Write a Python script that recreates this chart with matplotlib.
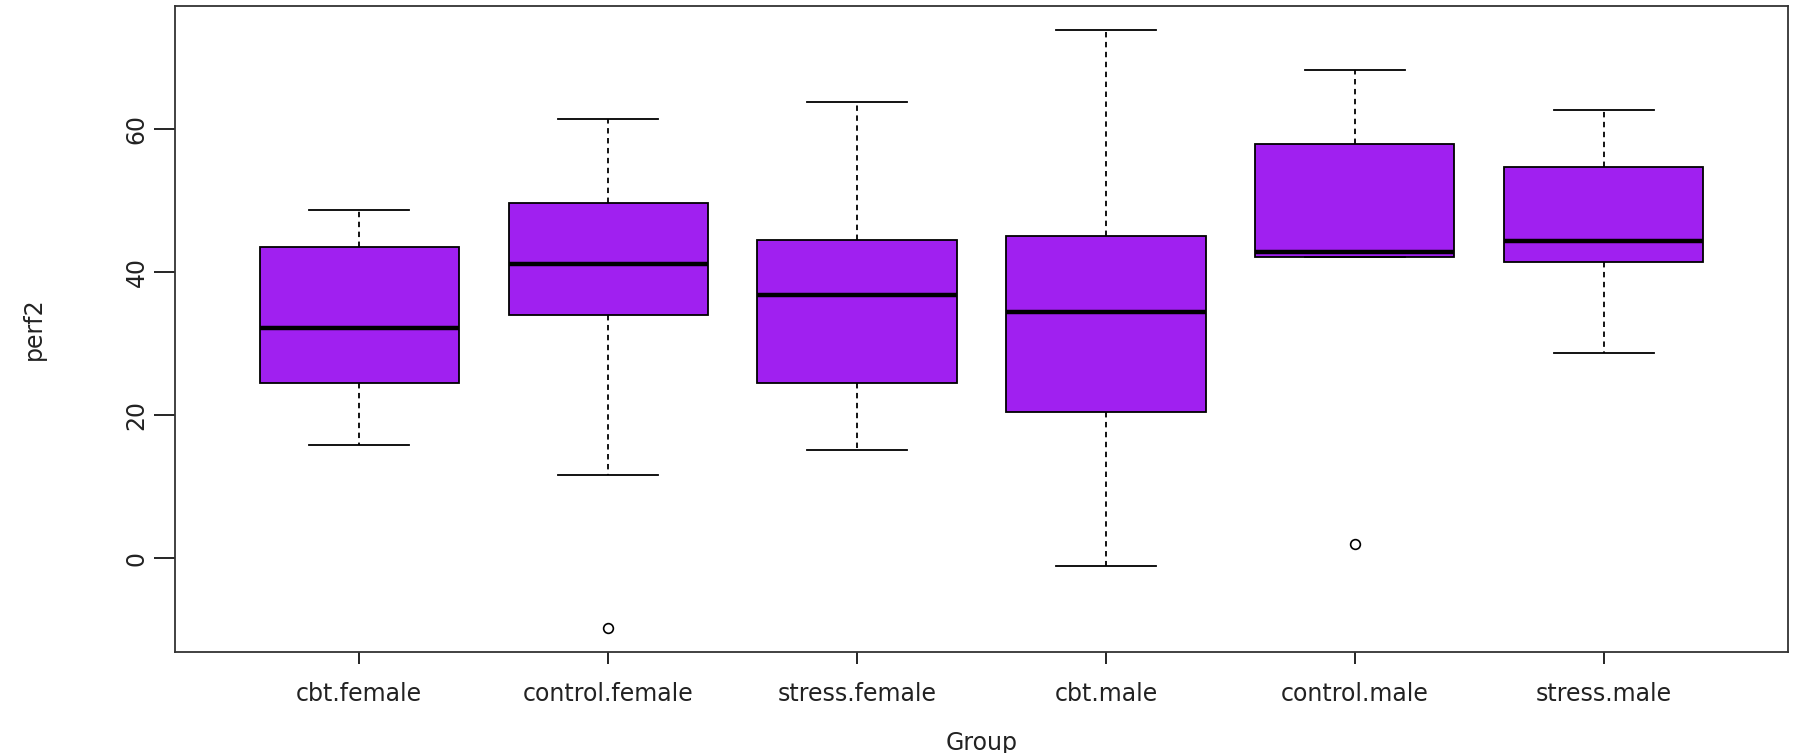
import matplotlib
matplotlib.use('Agg')
import matplotlib.pyplot as plt

groups = ['cbt.female', 'control.female', 'stress.female', 'cbt.male', 'control.male', 'stress.male']
whisker_low = [15.8, 11.6, 15.1, -1.1, 42.1, 28.6]
q1 = [24.4, 33.9, 24.5, 20.4, 42.1, 41.4]
median = [32.2, 41.1, 36.8, 34.4, 42.8, 44.3]
q3 = [43.5, 49.6, 44.4, 45.0, 57.8, 54.7]
whisker_high = [48.7, 61.3, 63.7, 73.8, 68.2, 62.6]
outliers = [[], [-9.8], [], [], [2.0], []]

stats = []
for i, g in enumerate(groups):
    stats.append(dict(label=g, whislo=whisker_low[i], q1=q1[i], med=median[i],
                      q3=q3[i], whishi=whisker_high[i], fliers=outliers[i]))

plt.rcParams['font.family'] = ['DejaVu Sans']

fig = plt.figure(figsize=(17.94, 7.53), dpi=100)
ax = fig.add_axes([0.0975, 0.134, 0.8992, 0.858])

ax.bxp(stats, positions=range(1, len(groups) + 1), widths=0.8, capwidths=0.4,
       patch_artist=True,
       boxprops=dict(facecolor='#A020F0', edgecolor='black', linewidth=1.3),
       medianprops=dict(color='black', linewidth=3.2, solid_capstyle='butt'),
       whiskerprops=dict(color='black', linewidth=1.3, linestyle=(0, (3, 2.5))),
       capprops=dict(color='black', linewidth=1.3),
       flierprops=dict(marker='o', markerfacecolor='none', markeredgecolor='black',
                       markersize=7, markeredgewidth=1.2))

# R-style axis limits: 4% padding around the data range
lo = min(whisker_low + [v for f in outliers for v in f])
hi = max(whisker_high + [v for f in outliers for v in f])
pad = 0.04 * (hi - lo)
ax.set_ylim(lo - pad, hi + pad)
ax.set_xlim(0.5 - 0.04 * 6, 6.5 + 0.04 * 6)

ax.set_yticks([0, 20, 40, 60])
ax.set_yticklabels(['0', '20', '40', '60'], rotation=90, va='center')
ax.tick_params(axis='y', length=15, width=1.2, pad=4, labelsize=17, labelcolor='#222222')
ax.tick_params(axis='x', length=8.5, width=1.2, pad=13, labelsize=17, labelcolor='#222222')

for s in ax.spines.values():
    s.set_linewidth(1.3)
    s.set_color('#333333')

ax.set_xlabel('Group', fontsize=17, color='#222222')
ax.set_ylabel('perf2', fontsize=17, color='#222222')
ax.xaxis.set_label_coords(0.5, -0.122)
ax.yaxis.set_label_coords(-0.080, 0.5)

fig.savefig('out.png', dpi=100)
